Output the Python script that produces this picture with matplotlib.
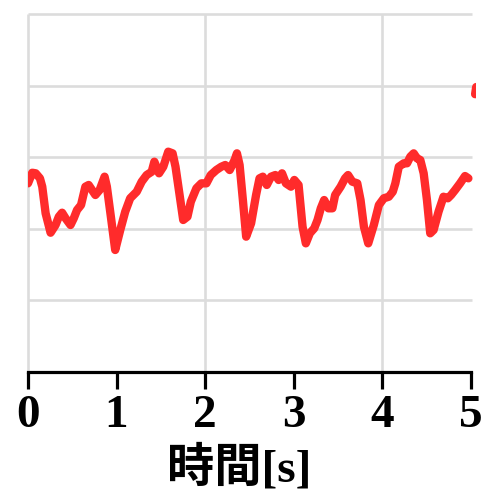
import matplotlib
matplotlib.use("Agg")
import matplotlib.pyplot as plt

# waveform samples (time [s], value)
t = [0.000, 0.048, 0.087, 0.135, 0.161, 0.199, 0.255, 0.311, 0.348, 0.385,
     0.424, 0.480, 0.517, 0.554, 0.599, 0.648, 0.685, 0.761, 0.809, 0.865,
     0.891, 0.936, 0.985, 1.042, 1.098, 1.154, 1.228, 1.284, 1.340, 1.397,
     1.427, 1.480, 1.528, 1.584, 1.633, 1.666, 1.704, 1.753, 1.801, 1.839,
     1.902, 1.958, 2.015, 2.064, 2.127, 2.183, 2.228, 2.278, 2.334, 2.360,
     2.390, 2.427, 2.464, 2.520, 2.576, 2.615, 2.652, 2.697, 2.745, 2.794,
     2.831, 2.869, 2.913, 2.970, 3.008, 3.056, 3.101, 3.138, 3.183, 3.233,
     3.270, 3.307, 3.345, 3.393, 3.438, 3.469, 3.531, 3.581, 3.615, 3.663,
     3.719, 3.756, 3.794, 3.843, 3.906, 3.963, 4.019, 4.075, 4.120, 4.149,
     4.188, 4.244, 4.281, 4.318, 4.356, 4.393, 4.431, 4.469, 4.506, 4.543,
     4.581, 4.637, 4.693, 4.742, 4.779, 4.824, 4.880, 4.936, 4.974]
v = [2.635, 2.783, 2.775, 2.705, 2.588, 2.216, 1.945, 2.053, 2.169, 2.225,
     2.147, 2.053, 2.147, 2.263, 2.332, 2.588, 2.612, 2.472, 2.542, 2.728,
     2.588, 2.169, 1.704, 1.983, 2.239, 2.426, 2.518, 2.658, 2.751, 2.797,
     2.937, 2.775, 2.867, 3.077, 3.054, 2.867, 2.542, 2.123, 2.169, 2.378,
     2.566, 2.635, 2.635, 2.751, 2.821, 2.867, 2.891, 2.821, 2.961, 3.054,
     2.891, 2.402, 1.890, 2.077, 2.472, 2.705, 2.728, 2.612, 2.728, 2.751,
     2.682, 2.775, 2.635, 2.588, 2.682, 2.612, 2.029, 1.797, 1.937, 2.007,
     2.123, 2.286, 2.402, 2.286, 2.286, 2.472, 2.588, 2.705, 2.751, 2.658,
     2.635, 2.402, 2.029, 1.797, 2.053, 2.332, 2.426, 2.448, 2.518, 2.635,
     2.867, 2.915, 2.915, 3.007, 3.054, 2.985, 2.961, 2.775, 2.402, 1.937,
     1.983, 2.239, 2.448, 2.426, 2.472, 2.542, 2.635, 2.737, 2.705]

# next segment, starting just past the right edge
t2 = [5.050, 5.062]
v2 = [3.88, 3.98]

xticks = [0, 1, 2, 3, 4, 5]
xgrid = [0, 2, 4]
ygrid = [1, 2, 3, 4, 5]

red = "#ff2b2b"
gridc = "#dcdcdc"

fig = plt.figure(figsize=(4.84, 4.91), dpi=100)
ax = fig.add_axes([28/484, (491-372)/491, 448/484, 358/491])
ax.set_xlim(0, 5.06)
ax.set_ylim(0, 5)

ax.hlines(ygrid, 0, 5.02, colors=gridc, lw=1.9, clip_on=False, zorder=1)
ax.vlines(xgrid, 0, 5, colors=gridc, lw=1.9, clip_on=False, zorder=1)

ax.plot(t, v, color=red, lw=6.0, solid_joinstyle="round",
        solid_capstyle="round", zorder=3)
ax.plot(t2, v2, color=red, lw=6.0, solid_capstyle="round", zorder=3)

for s in ["top", "right", "left"]:
    ax.spines[s].set_visible(False)
ax.spines["bottom"].set_linewidth(2.3)
ax.spines["bottom"].set_bounds(0, 5)
ax.spines["bottom"].set_zorder(4)

ax.set_yticks([])
ax.set_xticks(xticks)
ax.set_xticklabels([str(x) for x in xticks], family="Liberation Serif",
                   fontweight="bold", fontsize=34)
ax.tick_params(axis="x", length=12.5, width=2.3, pad=4, color="black")

ax.set_xlabel("時間[s]", family=["Liberation Serif", "Noto Sans CJK JP"],
              fontweight="bold", fontsize=34)
ax.xaxis.set_label_coords(0.471, -0.203)

fig.savefig("out.png", dpi=100)
